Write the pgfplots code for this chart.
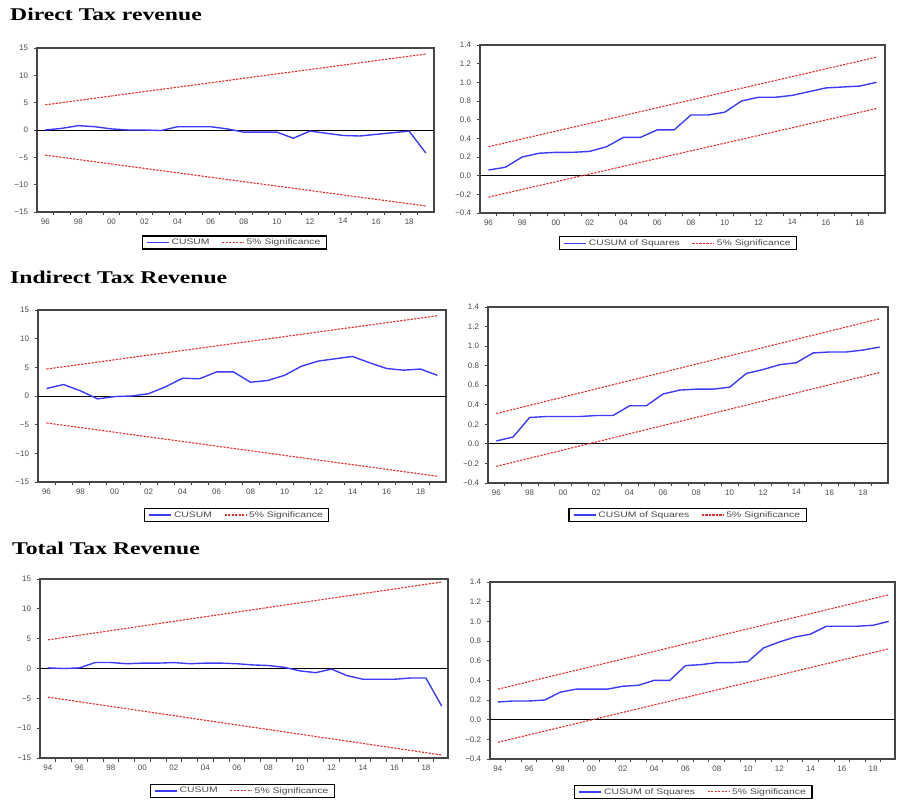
\documentclass[border=0pt]{standalone}
\usepackage{fontspec}
\setmainfont{Liberation Serif}
\setsansfont{Liberation Sans}
\usepackage{graphicx}
\usepackage{pgfplots}
\pgfplotsset{compat=1.18}

\definecolor{cblue}{RGB}{60,60,248}
\definecolor{cred}{RGB}{228,45,45}
\definecolor{frame}{RGB}{70,70,70}
\definecolor{ticklab}{RGB}{75,75,75}

\newcommand{\sx}[1]{\scalebox{1.25}[1]{#1}}
\newcommand{\lx}[1]{\scalebox{1.3}[1]{#1}}
\newcommand{\tx}[1]{\scalebox{1.32}[1]{#1}}

\pgfplotsset{
  ev/.style={
    scale only axis, anchor=south west,
    axis line style={draw=frame, line width=1.1bp},
    tick align=outside, xtick pos=bottom, ytick pos=left,
    major tick length=3bp, minor tick length=3.5bp,
    every tick/.style={draw=frame, line width=0.9bp},
    major x tick style={draw=none},
    tick label style={font=\sffamily\fontsize{8}{9}\selectfont, text=ticklab},
    xticklabel={\sx{\ticktext}},
    yticklabel={\sx{\ticktext}},
    yticklabel style={xshift=-2.5bp},
    legend style={draw=black, line width=1.2bp, font=\sffamily\fontsize{8}{9.5}\selectfont,
      text=ticklab, inner xsep=4bp, inner ysep=0.8bp, anchor=center,
      /tikz/every even column/.append style={column sep=10bp}},
    legend columns=2,
    legend cell align=left,
    legend image code/.code={\draw[##1] (0bp,0bp) -- (22bp,0bp);},
    clip=false,
  },
  cs/.style={ymin=-15, ymax=15, ytick={-15,-10,...,15},
    yticklabels={−15,−10,−5,0,5,10,15}},
  csq/.style={ymin=-0.4, ymax=1.4, ytick={-0.4,-0.2,...,1.41},
    yticklabels={−0.4,−0.2,0.0,0.2,0.4,0.6,0.8,1.0,1.2,1.4}},
  x96/.style={xmin=1995.5, xmax=2019.5, xtick={1996,1998,...,2018},
    xticklabels={96,98,00,02,04,06,08,10,12,14,16,18},
    minor xtick={1996.5,1997.5,...,2018.6}},
  x94/.style={xmin=1993.5, xmax=2019.4, xtick={1994,1996,...,2018},
    xticklabels={94,96,98,00,02,04,06,08,10,12,14,16,18},
    minor xtick={1994.5,1995.5,...,2018.6}},
  bl/.style={draw=cblue, line width=1.4bp, solid, no markers},
  rd/.style={draw=cred, line width=1.1bp, dash pattern=on 2.2bp off 1.3bp, no markers},
  zl/.style={draw=black, line width=0.8bp, no markers, forget plot},
}

\begin{document}
\begin{tikzpicture}
\useasboundingbox (0bp,0bp) rectangle (898bp,802bp);

\node[anchor=base west, inner sep=0pt, font=\fontsize{18}{20}\selectfont\bfseries] at (10bp,781bp) {\tx{Direct Tax revenue}};
\node[anchor=base west, inner sep=0pt, font=\fontsize{18}{20}\selectfont\bfseries] at (10bp,518bp) {\tx{Indirect Tax Revenue}};
\node[anchor=base west, inner sep=0pt, font=\fontsize{18}{20}\selectfont\bfseries] at (12bp,247bp) {\tx{Total Tax Revenue}};

% Panel 1: Direct CUSUM
\begin{axis}[ev, cs, x96, at={(37bp,590bp)}, width=397bp, height=164bp,
  legend style={at={(0.497,-0.186)}}]
\addplot[zl] coordinates {(1995.5,0) (2019.5,0)};
\addplot[bl] coordinates {
(1996,0) (1997,0.3) (1998,0.8) (1999,0.6) (2000,0.2) (2001,0) (2002,0) (2003,-0.1)
(2004,0.6) (2005,0.6) (2006,0.6) (2007,0.2) (2008,-0.4) (2009,-0.4) (2010,-0.4)
(2011,-1.5) (2012,-0.2) (2013,-0.6) (2014,-1.0) (2015,-1.1) (2016,-0.8) (2017,-0.5)
(2018,-0.2) (2019,-4.2)};
\addlegendentry{\lx{CUSUM}}
\addplot[rd] coordinates {(1996,4.6) (2019,13.9)};
\addlegendentry{\lx{5\% Significance}}
\addplot[rd, forget plot] coordinates {(1996,-4.6) (2019,-13.9)};
\end{axis}

% Panel 2: Direct CUSUMSQ
\begin{axis}[ev, csq, x96, at={(480bp,589bp)}, width=405bp, height=168bp,
  legend style={at={(0.489,-0.18)}}]
\addplot[zl] coordinates {(1995.5,0) (2019.5,0)};
\addplot[bl] coordinates {
(1996,0.06) (1997,0.09) (1998,0.20) (1999,0.24) (2000,0.25) (2001,0.25) (2002,0.26)
(2003,0.31) (2004,0.41) (2005,0.41) (2006,0.49) (2007,0.49) (2008,0.65) (2009,0.65)
(2010,0.68) (2011,0.80) (2012,0.84) (2013,0.84) (2014,0.86) (2015,0.90) (2016,0.94)
(2017,0.95) (2018,0.96) (2019,1.00)};
\addlegendentry{\lx{CUSUM of Squares}}
\addplot[rd] coordinates {(1996,0.31) (2019,1.27)};
\addlegendentry{\lx{5\% Significance}}
\addplot[rd, forget plot] coordinates {(1996,-0.23) (2019,0.72)};
\end{axis}

% Panel 3: Indirect CUSUM
\begin{axis}[ev, cs, x96, at={(38bp,320bp)}, width=408bp, height=172bp,
  legend style={at={(0.487,-0.192)}}]
\addplot[zl] coordinates {(1995.5,0) (2019.5,0)};
\addplot[bl] coordinates {
(1996,1.3) (1997,2.0) (1998,0.9) (1999,-0.5) (2000,-0.1) (2001,0) (2002,0.4)
(2003,1.6) (2004,3.1) (2005,3.0) (2006,4.2) (2007,4.2) (2008,2.4) (2009,2.7)
(2010,3.6) (2011,5.2) (2012,6.1) (2013,6.5) (2014,6.9) (2015,5.8) (2016,4.8)
(2017,4.5) (2018,4.7) (2019,3.6)};
\addlegendentry{\lx{CUSUM}}
\addplot[rd] coordinates {(1996,4.7) (2019,14.0)};
\addlegendentry{\lx{5\% Significance}}
\addplot[rd, forget plot] coordinates {(1996,-4.7) (2019,-14.0)};
\end{axis}

% Panel 4: Indirect CUSUMSQ
\begin{axis}[ev, csq, x96, at={(488bp,319bp)}, width=400bp, height=176bp,
  legend style={at={(0.499,-0.182)}}]
\addplot[zl] coordinates {(1995.5,0) (2019.5,0)};
\addplot[bl] coordinates {
(1996,0.03) (1997,0.07) (1998,0.27) (1999,0.28) (2000,0.28) (2001,0.28) (2002,0.29)
(2003,0.29) (2004,0.39) (2005,0.39) (2006,0.51) (2007,0.55) (2008,0.56) (2009,0.56)
(2010,0.58) (2011,0.72) (2012,0.76) (2013,0.81) (2014,0.83) (2015,0.93) (2016,0.94)
(2017,0.94) (2018,0.96) (2019,0.99)};
\addlegendentry{\lx{CUSUM of Squares}}
\addplot[rd] coordinates {(1996,0.31) (2019,1.28)};
\addlegendentry{\lx{5\% Significance}}
\addplot[rd, forget plot] coordinates {(1996,-0.23) (2019,0.73)};
\end{axis}

% Panel 5: Total CUSUM
\begin{axis}[ev, cs, x94, at={(40bp,44bp)}, width=408bp, height=179bp,
  legend style={at={(0.496,-0.184)}}]
\addplot[zl] coordinates {(1993.5,0) (2019.4,0)};
\addplot[bl] coordinates {
(1994,0.1) (1995,0) (1996,0.1) (1997,1.0) (1998,1.0) (1999,0.8) (2000,0.9)
(2001,0.9) (2002,1.0) (2003,0.8) (2004,0.9) (2005,0.9) (2006,0.8) (2007,0.6)
(2008,0.5) (2009,0.2) (2010,-0.4) (2011,-0.7) (2012,-0.1) (2013,-1.2) (2014,-1.8)
(2015,-1.8) (2016,-1.8) (2017,-1.6) (2018,-1.6) (2019,-6.3)};
\addlegendentry{\lx{CUSUM}}
\addplot[rd] coordinates {(1994,4.8) (2019,14.5)};
\addlegendentry{\lx{5\% Significance}}
\addplot[rd, forget plot] coordinates {(1994,-4.8) (2019,-14.5)};
\end{axis}

% Panel 6: Total CUSUMSQ
\begin{axis}[ev, csq, x94, at={(490bp,43bp)}, width=405bp, height=177bp,
  legend style={at={(0.502,-0.186)}}]
\addplot[zl] coordinates {(1993.5,0) (2019.4,0)};
\addplot[bl] coordinates {
(1994,0.18) (1995,0.19) (1996,0.19) (1997,0.20) (1998,0.28) (1999,0.31) (2000,0.31)
(2001,0.31) (2002,0.34) (2003,0.35) (2004,0.40) (2005,0.40) (2006,0.55) (2007,0.56)
(2008,0.58) (2009,0.58) (2010,0.59) (2011,0.73) (2012,0.79) (2013,0.84) (2014,0.87)
(2015,0.95) (2016,0.95) (2017,0.95) (2018,0.96) (2019,1.00)};
\addlegendentry{\lx{CUSUM of Squares}}
\addplot[rd] coordinates {(1994,0.31) (2019,1.27)};
\addlegendentry{\lx{5\% Significance}}
\addplot[rd, forget plot] coordinates {(1994,-0.23) (2019,0.72)};
\end{axis}
\end{tikzpicture}
\end{document}
